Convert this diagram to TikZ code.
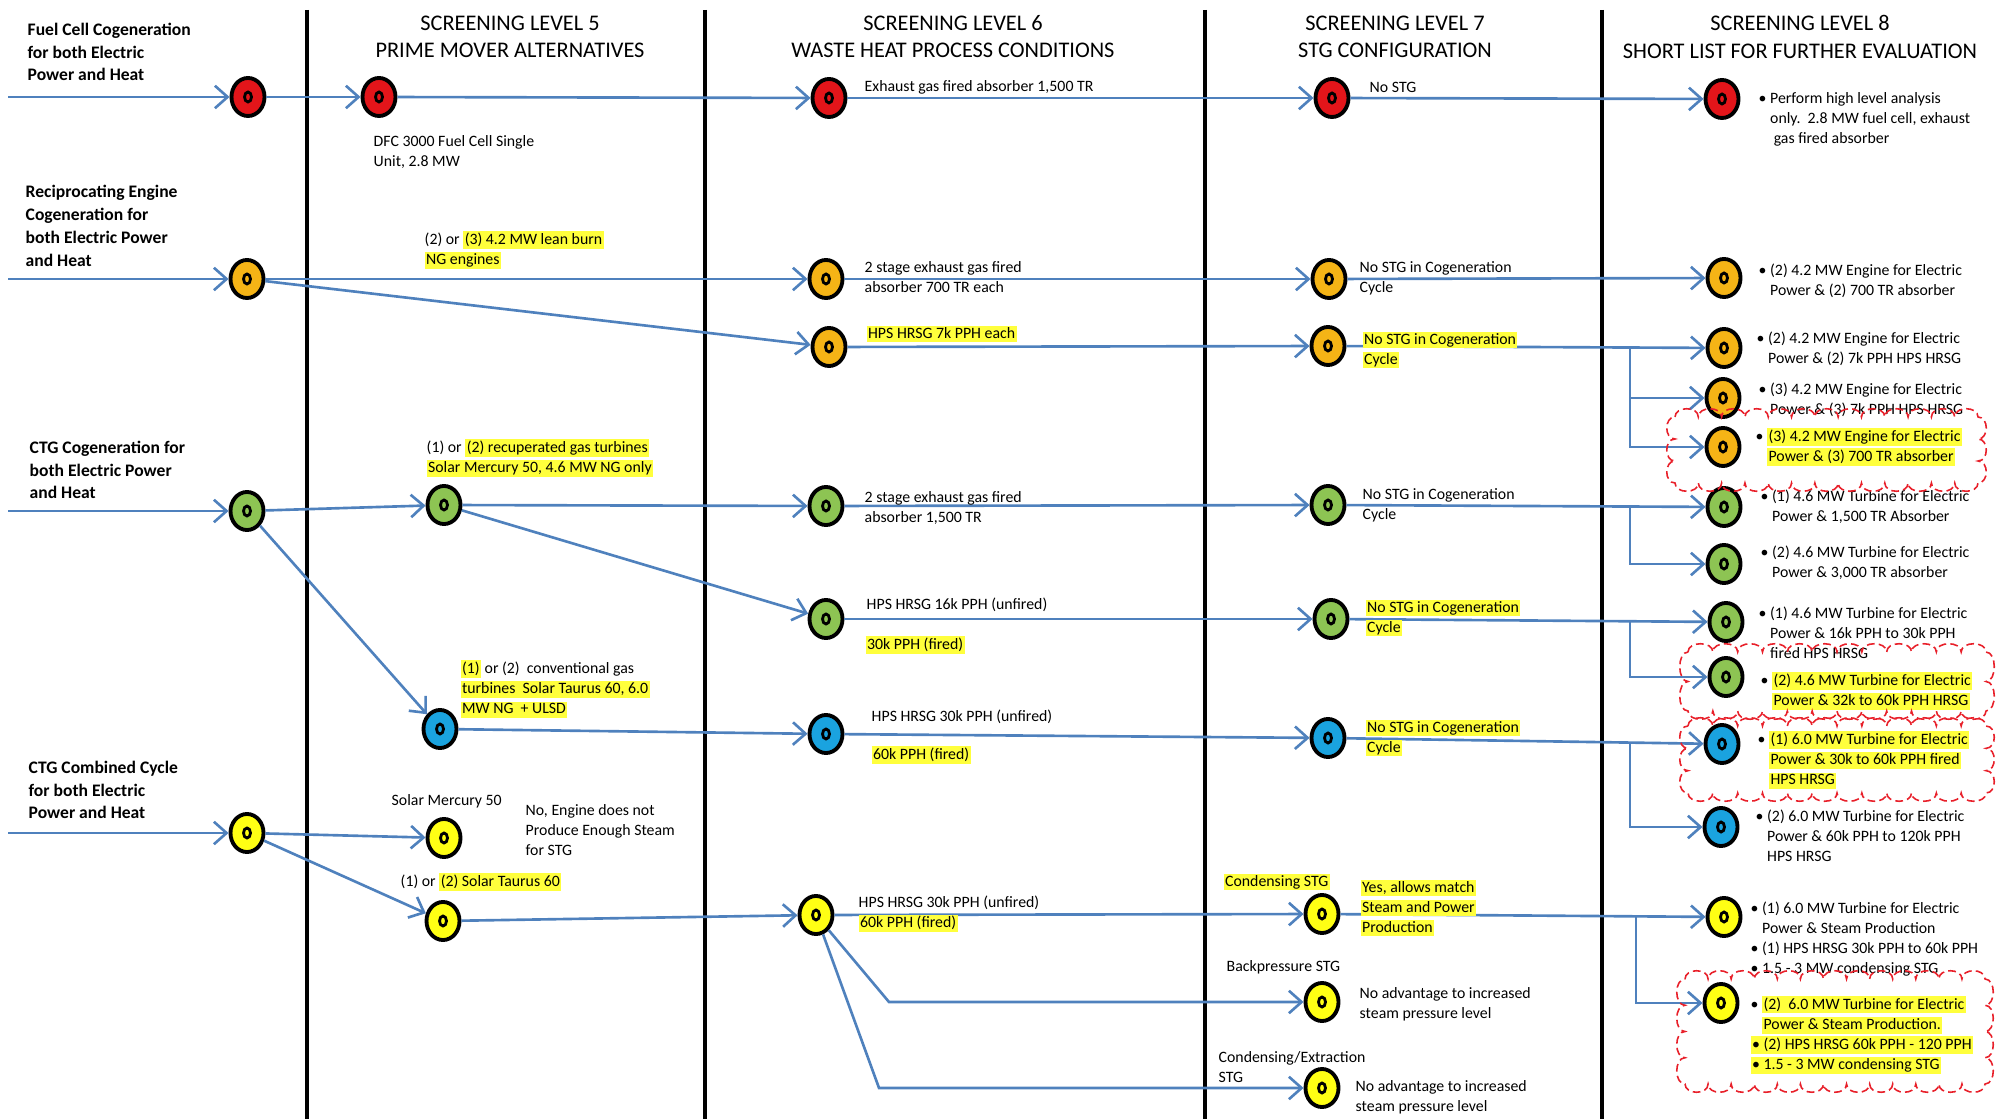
\documentclass[tikz,border=0pt]{standalone}
\usepackage{fontspec}
\setmainfont{Carlito}
\usetikzlibrary{%
    shapes.geometric,arrows.meta
}
\definecolor{flowblue}{HTML}{4F81BD}
\definecolor{redn}{HTML}{E3151A}
\definecolor{orangen}{HTML}{F5B416}
\definecolor{greenn}{HTML}{8DC453}
\definecolor{bluen}{HTML}{1AA3DF}
\definecolor{yellown}{HTML}{FFFF14}
\definecolor{hly}{HTML}{FFFF3C}
\definecolor{cloudred}{HTML}{E8202A}
\setlength{\fboxsep}{0.4pt}
\newcommand{\hlt}[1]{\colorbox{hly}{\vphantom{Ag}#1}}
\newcommand{\bu}{\textbullet\ }
\newcommand{\bsp}{\phantom{\textbullet\ }}
% scalloped revision cloud round a box: x1 y1 x2 y2
\newcommand{\cloudbox}[4]{%
    \pgfmathsetmacro{\cldw}{#3-#1}%
    \pgfmathsetmacro{\cldh}{#4-#2}%
    \pgfmathtruncatemacro{\cldnw}{round(\cldw/24)}%
    \pgfmathtruncatemacro{\cldnh}{max(2,round(\cldh/24))}%
    \pgfmathsetmacro{\cldsw}{\cldw/\cldnw}%
    \pgfmathsetmacro{\cldsh}{\cldh/\cldnh}%
    \draw[cloudline] (#1,#2)
        \foreach \i in {1,...,\cldnw}{ .. controls ({#1+(\i-1)*\cldsw},{#2-11}) and ({#1+\i*\cldsw},{#2-11}) .. ({#1+\i*\cldsw},#2)}
        \foreach \i in {1,...,\cldnh}{ .. controls ({#3+11},{#2+(\i-1)*\cldsh}) and ({#3+11},{#2+\i*\cldsh}) .. (#3,{#2+\i*\cldsh})}
        \foreach \i in {1,...,\cldnw}{ .. controls ({#3-(\i-1)*\cldsw},{#4+11}) and ({#3-\i*\cldsw},{#4+11}) .. ({#3-\i*\cldsw},#4)}
        \foreach \i in {1,...,\cldnh}{ .. controls ({#1-11},{#4-(\i-1)*\cldsh}) and ({#1-11},{#4-\i*\cldsh}) .. (#1,{#4-\i*\cldsh})};
}

\begin{document}
\begin{tikzpicture}[x=0.01cm,y=-0.01cm,
    >={Straight Barb[length=3.6pt,width=6.4pt]},
    flow/.style={draw=flowblue,line width=0.75pt,->},
    divider/.style={draw=black,line width=0.9pt},
    choice/.style={ellipse,draw=black,line width=1.1pt,fill=#1,
        minimum width=0.33cm,minimum height=0.38cm,inner sep=0pt,
        path picture={\draw[line width=0.8pt] (path picture bounding box.center) ellipse (0.035cm and 0.05cm);}},
    heading/.style={font={\fontsize{6.35}{7.7}\selectfont},align=center,inner sep=0pt},
    source/.style={font={\bfseries\fontsize{5}{6.5}\selectfont},align=left,anchor=west,inner sep=0pt},
    note/.style={font={\fontsize{4.5}{5.7}\selectfont},align=left,anchor=west,inner sep=0pt},
    cloudline/.style={draw=cloudred,line width=0.45pt,dash pattern=on 2.2pt off 1.2pt}]

\useasboundingbox (0,0) rectangle (2000,1119);
%\clip (0,0) rectangle (2000,1119);

\foreach \x in {307,705,1205,1602}
    \draw[divider] (\x,10) -- (\x,1119);

\node[heading] (t5) at (510,37) {SCREENING LEVEL 5\\PRIME MOVER ALTERNATIVES};
\node[heading] (t6) at (953,37) {SCREENING LEVEL 6\\WASTE HEAT PROCESS CONDITIONS};
\node[heading] (t7) at (1395,37) {SCREENING LEVEL 7\\STG CONFIGURATION};
\node[heading] (t8) at (1800,37) {SCREENING LEVEL 8\\SHORT LIST FOR FURTHER EVALUATION};

\node[source] (srcA) at (27,52) {Fuel Cell Cogeneration\\for both Electric\\Power and Heat};
\node[source] (srcB) at (25,226) {Reciprocating Engine\\Cogeneration for\\both Electric Power\\and Heat};
\node[source] (srcC) at (29,470) {CTG Cogeneration for\\both Electric Power\\and Heat};
\node[source] (srcD) at (28,790) {CTG Combined Cycle\\for both Electric\\Power and Heat};

% fuel cell
\node[choice=redn] (A0) at (248,97) {};
\node[choice=redn] (A1) at (379,97) {};
\node[choice=redn] (A2) at (829,98) {};
\node[choice=redn] (A3) at (1332,98) {};
\node[choice=redn] (A4) at (1722,99) {};

% reciprocating engine
\node[choice=orangen] (B0) at (247,279) {};
\node[choice=orangen] (B2a) at (826,279) {};
\node[choice=orangen] (B2b) at (829,347) {};
\node[choice=orangen] (B3a) at (1329,279) {};
\node[choice=orangen] (B3b) at (1328,346) {};
\node[choice=orangen] (B4a) at (1724,278) {};
\node[choice=orangen] (B4b) at (1724,348) {};
\node[choice=orangen] (B4c) at (1723,398) {};
\node[choice=orangen] (B4d) at (1723,447) {};

% CTG cogeneration
\node[choice=greenn] (C0) at (247,511) {};
\node[choice=greenn] (C1) at (444,505) {};
\node[choice=greenn] (C2a) at (826,506) {};
\node[choice=greenn] (C2b) at (826,619) {};
\node[choice=greenn] (C3a) at (1328,505) {};
\node[choice=greenn] (C3b) at (1331,619) {};
\node[choice=greenn] (C4a) at (1724,507) {};
\node[choice=greenn] (C4b) at (1724,564) {};
\node[choice=greenn] (C4c) at (1726,622) {};
\node[choice=greenn] (C4d) at (1726,677) {};

\node[choice=bluen] (D1) at (440,729) {};
\node[choice=bluen] (D2) at (826,734) {};
\node[choice=bluen] (D3) at (1328,738) {};
\node[choice=bluen] (D4a) at (1722,744) {};
\node[choice=bluen] (D4b) at (1721,827) {};

% combined cycle
\node[choice=yellown] (E0) at (247,833) {};
\node[choice=yellown] (E1a) at (444,838) {};
\node[choice=yellown] (E1b) at (443,921) {};
\node[choice=yellown] (E2) at (816,915) {};
\node[choice=yellown] (E3a) at (1322,914) {};
\node[choice=yellown] (E3b) at (1322,1002) {};
\node[choice=yellown] (E3c) at (1322,1088) {};
\node[choice=yellown] (E4a) at (1724,917) {};
\node[choice=yellown] (E4b) at (1721,1003) {};

\coordinate (inA) at (8,97);
\coordinate (inB) at (8,279);
\coordinate (inC) at (8,511);
\coordinate (inE) at (8,833);
\coordinate (brB) at (1630,347);
\coordinate (brC1) at (1630,506);
\coordinate (brC2) at (1630,621);
\coordinate (brD) at (1630,743);
\coordinate (brE) at (1636,917);
\coordinate (bendE1) at (889,1002);
\coordinate (bendE2) at (879,1088);

\draw[flow] (inA) -- (A0);
\draw[flow] (A0) -- (A1);
\draw[flow] (A1) -- (A2);
\draw[flow] (A2) -- (A3);
\draw[flow] (A3) -- (A4);

\draw[flow] (inB) -- (B0);
\draw[flow] (B0) -- (B2a);
\draw[flow] (B0) -- (B2b);
\draw[flow] (B2a) -- (B3a);
\draw[flow] (B2b) -- (B3b);
\draw[flow] (B3a) -- (B4a);
\draw[flow] (B3b) -- (B4b);
\draw[flow] (brB) |- (B4c);
\draw[flow] (brB) |- (B4d);

\draw[flow] (inC) -- (C0);
\draw[flow] (C0) -- (C1);
\draw[flow] (C0) -- (D1);
\draw[flow] (C1) -- (C2a);
\draw[flow] (C1) -- (C2b);
\draw[flow] (C2a) -- (C3a);
\draw[flow] (C2b) -- (C3b);
\draw[flow] (C3a) -- (C4a);
\draw[flow] (brC1) |- (C4b);
\draw[flow] (C3b) -- (C4c);
\draw[flow] (brC2) |- (C4d);

\draw[flow] (D1) -- (D2);
\draw[flow] (D2) -- (D3);
\draw[flow] (D3) -- (D4a);
\draw[flow] (brD) |- (D4b);

\draw[flow] (inE) -- (E0);
\draw[flow] (E0) -- (E1a);
\draw[flow] (E0) -- (E1b);
\draw[flow] (E1b) -- (E2);
\draw[flow] (E2) -- (E3a);
\draw[flow] (E2) -- (bendE1) -- (E3b);
\draw[flow] (E2) -- (bendE2) -- (E3c);
\draw[flow] (E3a) -- (E4a);
\draw[flow] (brE) |- (E4b);

% level 5
\node[note] (dfc) at (373,152) {DFC 3000 Fuel Cell Single\\Unit, 2.8 MW};
\node[note] (lean) at (424,250) {(2) or \hlt{(3) 4.2 MW lean burn}\\\hlt{NG engines}};
\node[note] (recup) at (426,458) {(1) or \hlt{(2) recuperated gas turbines}\\\hlt{Solar Mercury 50, 4.6 MW NG only}};
\node[note] (conv) at (460,689) {\hlt{(1)} or (2)\ \ conventional gas\\\hlt{turbines\ \ Solar Taurus 60, 6.0}\\\hlt{MW NG\ \ + ULSD}};
\node[note] (merc) at (391,801) {Solar Mercury 50};
\node[note] (noeng) at (525,830) {No, Engine does not\\Produce Enough Steam\\for STG};
\node[note] (taur) at (400,882) {(1) or \hlt{(2) Solar Taurus 60}};

% level 6
\node[note] (exhA) at (864,87) {Exhaust gas fired absorber 1,500 TR};
\node[note] (exhB) at (864,277) {2 stage exhaust gas fired\\absorber 700 TR each};
\node[note] (hrsgB) at (866,334) {\hlt{HPS HRSG 7k PPH each}};
\node[note] (exhC) at (864,508) {2 stage exhaust gas fired\\absorber 1,500 TR};
\node[note] (hrsgC) at (866,605) {HPS HRSG 16k PPH (unfired)};
\node[note] (firC) at (865,645) {\hlt{30k PPH (fired)}};
\node[note] (hrsgD) at (871,717) {HPS HRSG 30k PPH (unfired)};
\node[note] (firD) at (871,755) {\hlt{60k PPH (fired)}};
\node[note] (hrsgE) at (858,914) {HPS HRSG 30k PPH (unfired)\\\hlt{60k PPH (fired)}};

% level 7
\node[note] (stgA) at (1369,87) {No STG};
\node[note] (stgB) at (1359,278) {No STG in Cogeneration\\Cycle};
\node[note] (stgB2) at (1362,350) {\hlt{No STG in Cogeneration}\\\hlt{Cycle}};
\node[note] (stgC) at (1362,505) {No STG in Cogeneration\\Cycle};
\node[note] (stgC2) at (1365,618) {\hlt{No STG in Cogeneration}\\\hlt{Cycle}};
\node[note] (stgD) at (1365,738) {\hlt{No STG in Cogeneration}\\\hlt{Cycle}};
\node[note] (condE) at (1223,882) {\hlt{Condensing STG}};
\node[note] (yesE) at (1360,908) {\hlt{Yes, allows match}\\\hlt{Steam and Power}\\\hlt{Production}};
\node[note] (backE) at (1226,967) {Backpressure STG};
\node[note] (noadvA) at (1359,1004) {No advantage to increased\\steam pressure level};
\node[note] (extrE) at (1218,1067) {Condensing/Extraction\\STG};
\node[note] (noadvB) at (1355,1097) {No advantage to increased\\steam pressure level};

% level 8
\node[note] (slA) at (1758,119) {\bu Perform high level analysis\\\bsp only.\ \ 2.8 MW fuel cell, exhaust\\\bsp\ gas fired absorber};
\node[note] (slB) at (1758,281) {\bu (2) 4.2 MW Engine for Electric\\\bsp Power \& (2) 700 TR absorber};
\node[note] (slC) at (1756,349) {\bu (2) 4.2 MW Engine for Electric\\\bsp Power \& (2) 7k PPH HPS HRSG};
\node[note] (slD) at (1758,400) {\bu (3) 4.2 MW Engine for Electric\\\bsp Power \& (3) 7k PPH HPS HRSG};
\node[note] (slE) at (1755,447) {\bu\hlt{(3) 4.2 MW Engine for Electric}\\\bsp\hlt{Power \& (3) 700 TR absorber}};
\node[note] (slF) at (1760,507) {\bu (1) 4.6 MW Turbine for Electric\\\bsp Power \& 1,500 TR Absorber};
\node[note] (slG) at (1760,563) {\bu (2) 4.6 MW Turbine for Electric\\\bsp Power \& 3,000 TR absorber};
\node[note] (slH) at (1758,633) {\bu (1) 4.6 MW Turbine for Electric\\\bsp Power \& 16k PPH to 30k PPH\\\bsp fired HPS HRSG};
\node[note] (slI) at (1760,691) {\bu\hlt{(2) 4.6 MW Turbine for Electric}\\\bsp\hlt{Power \& 32k to 60k PPH HRSG}};
\node[note] (slJ) at (1757,760) {\bu\hlt{(1) 6.0 MW Turbine for Electric}\\\bsp\hlt{Power \& 30k to 60k PPH fired}\\\bsp\hlt{HPS HRSG}};
\node[note] (slK) at (1755,836) {\bu (2) 6.0 MW Turbine for Electric\\\bsp Power \& 60k PPH to 120k PPH\\\bsp HPS HRSG};
\node[note] (slL) at (1750,939) {\bu (1) 6.0 MW Turbine for Electric\\\bsp Power \& Steam Production\\\bu (1) HPS HRSG 30k PPH to 60k PPH\\\bu 1.5 - 3 MW condensing STG};
\node[note] (slM) at (1750,1035) {\bu\hlt{(2)\ \ 6.0 MW Turbine for Electric}\\\bsp\hlt{Power \& Steam Production.}\\\hlt{\bu (2) HPS HRSG 60k PPH - 120 PPH}\\\hlt{\bu 1.5 - 3 MW condensing STG}};

% clouds
\cloudbox{1675}{417}{1978}{483}
\cloudbox{1688}{652}{1986}{711}
\cloudbox{1688}{726}{1986}{793}
\cloudbox{1685}{979}{1985}{1084}

\end{tikzpicture}
\end{document}
